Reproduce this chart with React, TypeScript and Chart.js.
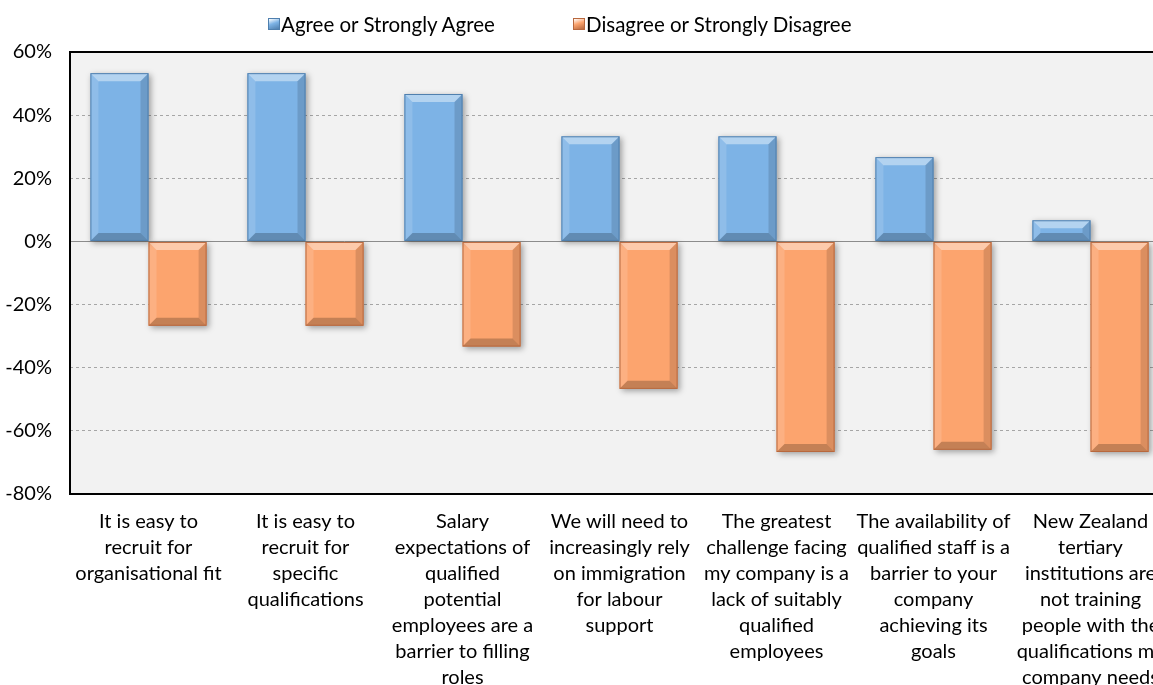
import React, { useEffect, useRef } from "react";
import { Chart, registerables } from "chart.js";

Chart.register(...registerables);

const categories: string[][] = [
  ["It is easy to", "recruit for", "organisational fit"],
  ["It is easy to", "recruit for", "specific", "qualifications"],
  ["Salary", "expectations of", "qualified", "potential", "employees are a", "barrier to filling", "roles"],
  ["We will need to", "increasingly rely", "on immigration", "for labour", "support"],
  ["The greatest", "challenge facing", "my company is a", "lack of suitably", "qualified", "employees"],
  ["The availability of", "qualified staff is a", "barrier to your", "company", "achieving its", "goals"],
  ["New Zealand", "tertiary", "institutions are", "not training", "people with the", "qualifications my", "company needs"],
];

const agree = [53.3, 53.3, 46.7, 33.3, 33.3, 26.7, 6.7];
const disagree = [-26.7, -26.7, -33.3, -46.7, -66.7, -66.0, -66.7];

const seriesNames = ["Agree or Strongly Agree", "Disagree or Strongly Disagree"];
const yMin = -80;
const yMax = 60;
const yStep = 20;

const FONT = "Lato";
const BLUE = "#7DB3E6";
const BLUE_BORDER = "#4F7FAE";
const ORANGE = "#FCA46E";
const ORANGE_BORDER = "#B8683E";

const CW = 1172;
const CH = 730;
const PLOT_TOP = 52;
const PLOT_LEFT = 70;
const PLOT_RIGHT = 1169;
const PLOT_BOTTOM = 494;

const decorPlugin = {
  id: "decor",
  beforeDraw(chart: any) {
    const { ctx, chartArea: a } = chart;
    ctx.save();
    ctx.fillStyle = "#F2F2F2";
    ctx.fillRect(a.left, a.top, a.right - a.left, a.bottom - a.top);
    ctx.restore();
  },
  beforeDatasetsDraw(chart: any) {
    const { ctx, chartArea: a, scales } = chart;
    const y0 = Math.round(scales.y.getPixelForValue(0)) + 0.5;
    ctx.save();
    ctx.strokeStyle = "#8C8C8C";
    ctx.lineWidth = 1;
    ctx.beginPath();
    ctx.moveTo(a.left, y0);
    ctx.lineTo(a.right, y0);
    ctx.stroke();
    ctx.strokeStyle = "#000";
    ctx.lineWidth = 2;
    ctx.strokeRect(a.left, a.top, a.right - a.left, a.bottom - a.top);
    ctx.restore();
  },
  beforeDatasetDraw(chart: any) {
    const ctx = chart.ctx;
    ctx.save();
    ctx.shadowColor = "rgba(0,0,0,0.35)";
    ctx.shadowBlur = 6;
    ctx.shadowOffsetX = 2;
    ctx.shadowOffsetY = 2;
  },
  afterDatasetDraw(chart: any) {
    chart.ctx.restore();
  },
  afterDatasetsDraw(chart: any) {
    const ctx = chart.ctx;
    chart.data.datasets.forEach((ds: any, i: number) => {
      const meta = chart.getDatasetMeta(i);
      meta.data.forEach((el: any) => {
        const l = el.x - el.width / 2;
        const r = el.x + el.width / 2;
        const t = Math.min(el.y, el.base);
        const b = Math.max(el.y, el.base);
        const bev = Math.min(8, (b - t) / 2, (r - l) / 2);
        ctx.save();
        const poly = (pts: number[][], fill: string) => {
          ctx.beginPath();
          ctx.moveTo(pts[0][0], pts[0][1]);
          for (let k = 1; k < pts.length; k++) ctx.lineTo(pts[k][0], pts[k][1]);
          ctx.closePath();
          ctx.fillStyle = fill;
          ctx.fill();
        };
        poly([[l, t], [r, t], [r - bev, t + bev], [l + bev, t + bev]], "rgba(255,255,255,0.42)");
        poly([[l, t], [l + bev, t + bev], [l + bev, b - bev], [l, b]], "rgba(255,255,255,0.14)");
        poly([[r, t], [r, b], [r - bev, b - bev], [r - bev, t + bev]], "rgba(0,0,0,0.13)");
        poly([[l, b], [l + bev, b - bev], [r - bev, b - bev], [r, b]], "rgba(0,0,0,0.22)");
        ctx.strokeStyle = ds.borderColor;
        ctx.lineWidth = 1;
        ctx.strokeRect(l + 0.5, t + 0.5, r - l - 1, b - t - 1);
        ctx.restore();
      });
    });
  },
};

function LegendItem({ label, color, border, left }: { label: string; color: string; border: string; left: number }) {
  return (
    <div style={{ position: "absolute", left, top: 11, display: "flex", alignItems: "center", fontFamily: FONT, fontSize: 20.5, lineHeight: "26px", color: "#000", whiteSpace: "nowrap" }}>
      <span
        style={{
          display: "inline-block",
          width: 10,
          height: 10,
          marginRight: 1,
          background: `linear-gradient(160deg, #fff 0%, ${color} 45%, ${border} 100%)`,
          border: `1px solid ${border}`,
        }}
      />
      <span>{label}</span>
    </div>
  );
}

export default function App() {
  const ref = useRef<HTMLCanvasElement>(null);

  useEffect(() => {
    const canvas = ref.current!;
    const chart = new Chart(canvas, {
      type: "bar",
      data: {
        labels: categories,
        datasets: [
          { label: seriesNames[0], data: agree, backgroundColor: BLUE, borderColor: BLUE_BORDER, borderWidth: 0, categoryPercentage: 0.74, barPercentage: 1 },
          { label: seriesNames[1], data: disagree, backgroundColor: ORANGE, borderColor: ORANGE_BORDER, borderWidth: 0, categoryPercentage: 0.74, barPercentage: 1 },
        ],
      },
      options: {
        responsive: false,
        animation: false,
        devicePixelRatio: 1,
        layout: { autoPadding: false, padding: { top: PLOT_TOP, left: 0, right: CW - PLOT_RIGHT, bottom: 0 } },
        plugins: { legend: { display: false }, tooltip: { enabled: false } },
        scales: {
          x: {
            grid: { display: false, drawTicks: false },
            border: { display: false },
            ticks: {
              autoSkip: false,
              maxRotation: 0,
              minRotation: 0,
              padding: 15,
              color: "#000",
              font: { family: FONT, size: 20, lineHeight: 1.3 },
            },
            afterFit: (s: any) => {
              s.height = CH - PLOT_BOTTOM;
              s.paddingLeft = 0;
              s.paddingRight = 0;
            },
          },
          y: {
            min: yMin,
            max: yMax,
            grid: { color: "#A6A6A6", drawTicks: false, lineWidth: 1 },
            border: { display: false, dash: [3, 3] },
            ticks: {
              stepSize: yStep,
              padding: 18,
              color: "#000",
              font: { family: FONT, size: 20 },
              callback: (v: any) => `${v}%`,
            },
            afterFit: (s: any) => {
              s.width = PLOT_LEFT;
              s.paddingTop = 0;
              s.paddingBottom = 0;
            },
          },
        },
      },
      plugins: [decorPlugin],
    });
    return () => chart.destroy();
  }, []);

  return (
    <div style={{ position: "fixed", left: 0, top: 0, width: 1153, height: 685, overflow: "hidden", background: "#fff" }}>
      <div style={{ position: "relative", width: CW, height: CH }}>
        <canvas ref={ref} width={CW} height={CH} style={{ display: "block", width: CW, height: CH }} />
        <LegendItem label={seriesNames[0]} color={BLUE} border={BLUE_BORDER} left={268} />
        <LegendItem label={seriesNames[1]} color={ORANGE} border={ORANGE_BORDER} left={573} />
      </div>
    </div>
  );
}
